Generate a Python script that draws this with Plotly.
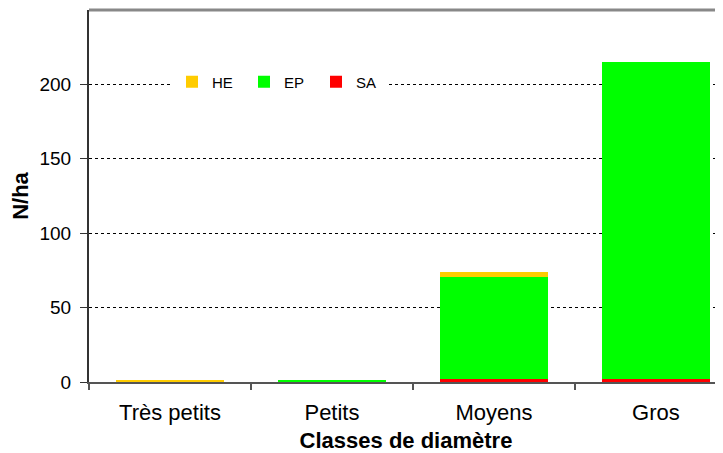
import plotly.graph_objects as go

categories = ["Très petits", "Petits", "Moyens", "Gros"]
sa = [0.0, 0.0, 2.0, 2.0]
ep = [0.0, 0.7, 68.5, 213.0]
he = [0.7, 0.0, 3.3, 0.0]
y_ticks = [0, 50, 100, 150, 200]

FONT = "Liberation Sans, Arial, sans-serif"

fig = go.Figure()
fig.add_trace(go.Bar(name="SA", x=categories, y=sa, marker=dict(color="#FF0000", line=dict(width=0))))
fig.add_trace(go.Bar(name="EP", x=categories, y=ep, marker=dict(color="#00FF00", line=dict(width=0))))
fig.add_trace(go.Bar(name="HE", x=categories, y=he, marker=dict(color="#FFCC00", line=dict(width=0))))

fig.update_layout(
    width=715, height=445,
    barmode="stack", bargap=0.333,
    plot_bgcolor="white", paper_bgcolor="white",
    margin=dict(l=81, r=0, t=2, b=71, pad=0, autoexpand=False),
    font=dict(family=FONT, size=18, color="black"),
    legend=dict(
        orientation="h", traceorder="reversed",
        x=(172 - 89) / 634, xanchor="left", y=(382 - 82) / 372, yanchor="middle",
        bgcolor="white", font=dict(size=15, family=FONT),
        entrywidth=27, entrywidthmode="pixels", itemwidth=30,
    ),
    xaxis=dict(
        range=[-0.5, 3.414], showgrid=False, showline=True, linecolor="#555555", linewidth=2,
        ticks="outside", tickson="boundaries", ticklen=6, tickcolor="#555555", tickwidth=2,
        tickfont=dict(size=22, family=FONT), automargin=False, ticklabelstandoff=10,
        title=dict(text="<b>Classes de diamètre</b>", font=dict(size=22, family=FONT), standoff=12),
        zeroline=False,
    ),
    yaxis=dict(
        range=[0, 250], tickvals=y_ticks, showgrid=True, gridcolor="black", griddash="dot", gridwidth=1,
        showline=True, linecolor="#333333", linewidth=2, ticks="outside", ticklen=7, tickcolor="#333333",
        tickfont=dict(size=19, family=FONT), zeroline=False, automargin=False, ticklabelstandoff=5,
        title=dict(text="<b>N/ha</b>", font=dict(size=22, family=FONT), standoff=5),
    ),
    shapes=[
        dict(type="line", xref="paper", yref="paper", x0=0, x1=1, y0=1, y1=1,
             line=dict(color="#888888", width=3)),
        dict(type="rect", xref="paper", yref="paper", layer="between",
             x0=(150 - 89) / 634, x1=(405 - 89) / 634, y0=(382 - 90) / 372, y1=(382 - 76) / 372,
             fillcolor="white", line=dict(width=0)),
    ],
)

fig.write_html("out.html")
